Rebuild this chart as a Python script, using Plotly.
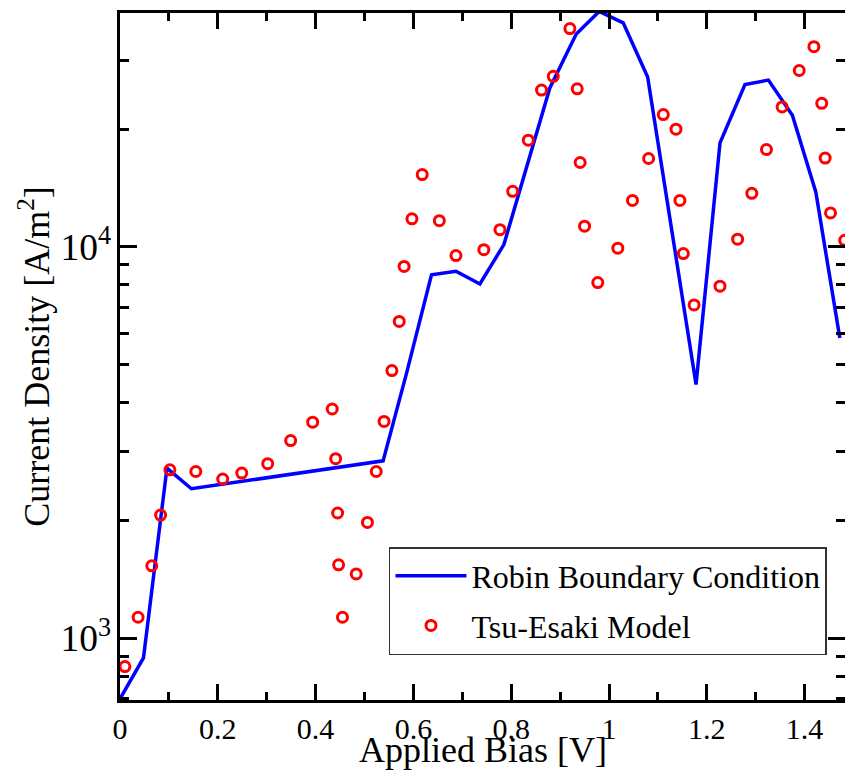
import plotly.graph_objects as go

# Robin Boundary Condition (blue line)
robin_bias = [0.0, 0.048, 0.096, 0.146, 0.538, 0.586, 0.637, 0.687, 0.736, 0.785,
              0.879, 0.933, 0.980, 1.029, 1.079, 1.178, 1.227, 1.278, 1.326, 1.375,
              1.423, 1.472]
robin_current = [700, 890, 2720, 2410, 2840, 4760, 8490, 8670, 8040, 10140,
                 25500, 35000, 40000, 37400, 27200, 4450, 18450, 26000, 26700, 21700,
                 13800, 5850]

# Tsu-Esaki Model (red open circles)
tsu_bias = [0.010, 0.037, 0.065, 0.083, 0.102, 0.155, 0.210, 0.249, 0.302, 0.349,
            0.394, 0.434, 0.441, 0.445, 0.447, 0.455, 0.483, 0.506, 0.524, 0.540,
            0.556, 0.571, 0.581, 0.597, 0.618, 0.653, 0.687, 0.744, 0.777, 0.803,
            0.835, 0.862, 0.886, 0.920, 0.935, 0.941, 0.950, 0.977, 1.018, 1.048,
            1.081, 1.111, 1.137, 1.145, 1.152, 1.174, 1.227, 1.263, 1.292, 1.322,
            1.354, 1.389, 1.419, 1.435, 1.442, 1.453, 1.482]
tsu_current = [846, 1131, 1531, 2064, 2693, 2667, 2552, 2642, 2793, 3200,
               3566, 3853, 2877, 2089, 1540, 1131, 1460, 1977, 2667, 3581,
               4830, 6451, 8915, 11800, 15310, 11670, 9505, 9843, 11070, 13870,
               18750, 25180, 27300, 36150, 25360, 16440, 11300, 8110, 9930, 13150,
               16830, 21790, 20000, 13150, 9620, 7110, 7940, 10470, 13710, 17740,
               22800, 28250, 32510, 23290, 16870, 12220, 10400]

x_title = "Applied Bias [V]"
y_title = "Current Density [A/m<sup>2</sup>]"

x_range = [0, 1.4826]
y_range = [2.842, 4.598]
FONT = "Liberation Serif, Times New Roman, DejaVu Serif, serif"

fig = go.Figure()
fig.add_trace(go.Scatter(
    x=robin_bias, y=robin_current, mode="lines",
    name="Robin Boundary Condition",
    line=dict(color="#0000FF", width=3.5),
    legendgroup="a",
))
fig.add_trace(go.Scatter(
    x=tsu_bias, y=tsu_current, mode="markers",
    name="Tsu-Esaki Model",
    marker=dict(symbol="circle-open", size=10, color="#FF0000",
                line=dict(color="#FF0000", width=3)),
    legendgroup="b",
))
# empty trace so the right-hand mirrored tick axis is rendered
fig.add_trace(go.Scatter(x=[], y=[], yaxis="y2", showlegend=False, hoverinfo="skip"))

tick_common = dict(ticks="inside", tickwidth=3, tickcolor="black", showgrid=False,
                   zeroline=False, automargin=False)

fig.update_layout(
    width=845, height=776,
    margin=dict(l=120, r=0, t=13, b=76, autoexpand=False),
    plot_bgcolor="white", paper_bgcolor="white",
    font=dict(family=FONT, size=30, color="black"),
    xaxis=dict(
        range=x_range, showline=True, linewidth=3, linecolor="black",
        mirror="ticks", ticklen=16, dtick=0.2, tick0=0,
        minor=dict(dtick=0.1, ticks="inside", ticklen=8, tickwidth=3,
                   tickcolor="black", showgrid=False),
        tickfont=dict(size=30, family=FONT),
        **tick_common,
    ),
    yaxis=dict(
        type="log", range=y_range, showline=True, linewidth=3, linecolor="black",
        ticklen=17, dtick=1, exponentformat="power",
        minor=dict(dtick="D1", ticks="inside", ticklen=9, tickwidth=3,
                   tickcolor="black", showgrid=False),
        title=dict(text=y_title, font=dict(size=36, family=FONT), standoff=0),
        tickfont=dict(size=30, family=FONT),
        **tick_common,
    ),
    yaxis2=dict(
        type="log", range=y_range, overlaying="y", side="right",
        showline=False, ticklen=17, dtick=1, showticklabels=False,
        minor=dict(dtick="D1", ticks="inside", ticklen=9, tickwidth=3,
                   tickcolor="black", showgrid=False),
        **tick_common,
    ),
    legend=dict(
        x=0.371, y=0.2227, xanchor="left", yanchor="top",
        bgcolor="white", bordercolor="#333333", borderwidth=1.5,
        font=dict(size=32, family=FONT), tracegroupgap=5,
        itemwidth=71,
    ),
    showlegend=True,
    annotations=[dict(
        text=x_title, xref="paper", yref="paper", x=0.5, y=-0.0735,
        xanchor="center", yanchor="middle", showarrow=False,
        font=dict(size=36, family=FONT, color="black"),
    )],
)

fig.write_html(
    "out.html",
    config={"displayModeBar": False},
    post_script="document.body.style.margin='0px';document.body.style.overflow='hidden';",
)
